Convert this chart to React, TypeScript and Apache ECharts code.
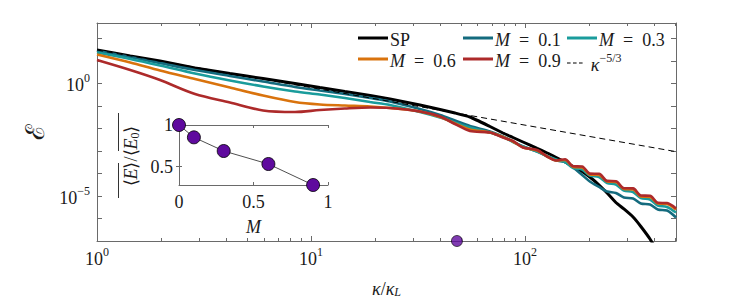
import React, { useEffect, useRef } from 'react';
import * as echarts from 'echarts';

// ---- data ----
const kappa = [1, 1.43, 1.97, 2.87, 4.18, 5.97, 8.42, 11.0, 14.4, 18.9, 23.4, 32.3, 40.1, 47.1, 55.3, 68.6, 78.9, 87.9, 97.9, 114, 127, 140, 154, 168, 185, 201, 222, 242, 266, 290, 320, 348, 384, 418, 461, 508];
const spE = [30.1, 16.3, 9.77, 4.78, 2.72, 1.63, 0.98, 0.651, 0.433, 0.287, 0.201, 0.109, 0.0687, 0.0481, 0.0319, 0.0121, 6.22e-3, 3.93e-3, 2.48e-3, 1.28e-3, 8.06e-4, 5.09e-4, 3.21e-4, 2.03e-4, 1.22e-4, 6.94e-5, 3.06e-5, 1.35e-5, 5.12e-6, 2.64e-6, 1.16e-6, 4.41e-7, 1.23e-7, 3.25e-8, 6.34e-9, 1.12e-9];
const m01E = [27.1, 14.7, 7.96, 3.89, 2.11, 1.2, 0.685, 0.479, 0.335, 0.223, 0.156, 0.0723, 0.0392, 0.0223, 0.0127, 7.26e-3, 4.35e-3, 2.61e-3, 1.57e-3, 9.39e-4, 5.64e-4, 3.75e-4, 3.21e-4, 1.83e-4, 8.51e-5, 4.38e-5, 2.5e-5, 1.58e-5, 1.35e-5, 8.54e-6, 7.7e-6, 4.62e-6, 4.17e-6, 2.5e-6, 2.26e-6, 1.11e-6];
const m03E = [23.3, 12.0, 6.17, 2.72, 1.33, 0.721, 0.433, 0.318, 0.223, 0.148, 0.109, 0.0532, 0.0303, 0.0182, 0.0109, 6.55e-3, 4.13e-3, 2.48e-3, 1.57e-3, 9.39e-4, 5.93e-4, 4.15e-4, 3.21e-4, 1.74e-4, 1.49e-4, 8.09e-5, 6.94e-5, 3.76e-5, 3.22e-5, 1.75e-5, 1.5e-5, 8.11e-6, 6.96e-6, 3.77e-6, 3.23e-6, 1.84e-6];
const m06E = [19.0, 8.38, 3.7, 1.55, 0.651, 0.287, 0.148, 0.115, 0.103, 0.0934, 0.0801, 0.056, 0.0319, 0.0164, 8.9e-3, 6.55e-3, 4.13e-3, 2.61e-3, 1.41e-3, 1.04e-3, 5.64e-4, 3.75e-4, 3.94e-4, 1.93e-4, 1.83e-4, 8.96e-5, 8.51e-5, 4.38e-5, 4.16e-5, 2.03e-5, 1.93e-5, 9.45e-6, 8.98e-6, 4.62e-6, 4.39e-6, 2.5e-6];
const m09E = [10.8, 3.89, 1.4, 0.335, 0.141, 0.062, 0.0532, 0.0653, 0.0761, 0.0843, 0.0801, 0.056, 0.0336, 0.0156, 7.63e-3, 6.55e-3, 3.93e-3, 2.75e-3, 1.41e-3, 1.1e-3, 5.64e-4, 3.75e-4, 4.28e-4, 2.09e-4, 2.03e-4, 9.82e-5, 9.62e-5, 4.66e-5, 4.52e-5, 2.21e-5, 2.16e-5, 1.05e-5, 1.02e-5, 4.97e-6, 4.82e-6, 2.77e-6];
const refK = [1, 508];
const refE = [30, 9.27e-4];
const strayK = [48.1];
const strayE = [1e-7];

const insetM = [0, 0.1, 0.3, 0.6, 0.9];
const insetRatio = [1.0, 0.852, 0.688, 0.532, 0.28];

const xLabelExps = [0, 1, 2];
const yLabelExps = [0, -5];
const minorKappa = [2, 3, 4, 5, 6, 7, 8, 9, 20, 30, 40, 50, 60, 70, 80, 90, 200, 300, 400, 500];
const insetTicksY = [0.5, 1];

const seriesNames = ['SP', 'M = 0.1', 'M = 0.3', 'M = 0.6', 'M = 0.9', 'ref'];
const seriesColors = ['#000000', '#146b7e', '#1a9c9c', '#d9730d', '#ad2a2a', '#000000'];

const FONT = "'Liberation Serif', serif";
const TXT = '#1a1a1a';
const AXIS = '#6a6a6a';

const rich: any = {
  b: { fontSize: 18, fontFamily: FONT, color: TXT, lineHeight: 22, verticalAlign: 'bottom' },
  i: { fontSize: 18, fontFamily: FONT, color: TXT, fontStyle: 'italic', lineHeight: 22, verticalAlign: 'bottom' },
  sup: { fontSize: 12, fontFamily: FONT, color: TXT, lineHeight: 22, verticalAlign: 'top' },
  sub: { fontSize: 12, fontFamily: FONT, color: TXT, fontStyle: 'italic', lineHeight: 27, verticalAlign: 'bottom' },
  s: { fontSize: 26, fontFamily: "'DejaVu Serif', serif", color: TXT },
};

const legendText: Record<string, string> = {
  'SP': '{b|SP}',
  'M = 0.1': '{i|M}{b|\u2002=\u20020.1}',
  'M = 0.3': '{i|M}{b|\u2002=\u20020.3}',
  'M = 0.6': '{i|M}{b|\u2002=\u20020.6}',
  'M = 0.9': '{i|M}{b|\u2002=\u20020.9}',
  'ref': '{i|κ}{sup|−5/3}',
};

function pow10Label(v: number, allowed: number[]) {
  const e = Math.log10(v);
  const r = Math.round(e);
  if (Math.abs(e - r) > 1e-6 || allowed.indexOf(r) < 0) return '';
  return `{b|10}{sup|${r < 0 ? '−' + -r : r}}`;
}

const zip = (a: number[], b: number[]) => a.map((v, i) => [v, b[i]]);

export default function App() {
  const ref = useRef<HTMLDivElement>(null);
  useEffect(() => {
    const chart = echarts.init(ref.current!, null, { renderer: 'svg' });
    const curves = [spE, m01E, m03E, m06E, m09E];
    const lineSeries: any[] = curves.map((c, i) => ({
      type: 'line',
      name: seriesNames[i],
      xAxisIndex: 0,
      yAxisIndex: 0,
      data: zip(kappa, c),
      showSymbol: false,
      symbol: 'none',
      smooth: i === 0 ? 0.15 : 0.3,
      lineStyle: { color: seriesColors[i], width: i === 0 ? 3 : 2.6 },
      itemStyle: { color: seriesColors[i] },
      z: 2 + i,
    }));
    lineSeries.push({
      type: 'line',
      name: 'ref',
      xAxisIndex: 0,
      yAxisIndex: 0,
      data: zip(refK, refE),
      symbol: 'none',
      lineStyle: { color: '#000', width: 1, type: [6, 4] },
      itemStyle: { color: '#000' },
      z: 8,
    });
    const legendPos = [
      [358, 31], [463, 31], [567, 31],
      [358, 52], [463, 52], [567, 52],
    ];
    const legendOrder = ['SP', 'M = 0.1', 'M = 0.3', 'M = 0.6', 'M = 0.9', 'ref'];
    const dashIcon = 'path://M0,0h6v2h-6zM10,0h6v2h-6zM20,0h6v2h-6z';
    const legends = legendOrder.map((n, i) => ({
      data: [n],
      left: legendPos[i][0],
      top: legendPos[i][1],
      padding: 0,
      itemGap: 0,
      itemWidth: n === 'ref' ? 28 : 30,
      itemHeight: n === 'ref' ? 1.2 : 3,
      icon: n === 'ref' ? dashIcon : 'rect',
      selectedMode: false,
      formatter: (name: string) => legendText[name],
      textStyle: { rich, fontFamily: FONT, fontSize: 18, color: TXT, padding: [0, 0, 0, -3] },
    }));

    const mainX = {
      type: 'log', logBase: 10, min: 1, max: 508, gridIndex: 0,
      axisLine: { show: true, lineStyle: { color: AXIS, width: 1 } },
      axisTick: { show: true, inside: true, length: 5, lineStyle: { color: AXIS } },
      splitLine: { show: false },
      minorTick: { show: false },
    };
    const mainY = {
      type: 'log', logBase: 10, min: 1e-7, max: 475, gridIndex: 0,
      axisLine: { show: true, lineStyle: { color: AXIS, width: 1 } },
      axisTick: { show: true, inside: true, length: 5, lineStyle: { color: AXIS } },
      splitLine: { show: false },
    };
    const insetAxisBase = {
      gridIndex: 1, type: 'value',
      axisLine: { show: true, lineStyle: { color: AXIS, width: 1 } },
      axisTick: { show: true, inside: true, length: 3, lineStyle: { color: AXIS } },
      splitLine: { show: false },
    };

    chart.setOption({
      animation: false,
      backgroundColor: '#ffffff',
      grid: [
        { left: 97, top: 23, width: 579, height: 218, containLabel: false, outerBoundsMode: 'none' },
        { left: 179, top: 125, width: 149, height: 60, containLabel: false, outerBoundsMode: 'none' },
      ],
      legend: legends,
      xAxis: [
        {
          ...mainX, position: 'bottom',
          axisLabel: { formatter: (v: number) => pow10Label(v, xLabelExps), rich, margin: 5, showMaxLabel: false },
          name: '{i|κ}{b|/}{i|κ}{sub|L}', nameLocation: 'middle', nameGap: 30,
          nameTextStyle: { rich },
        },
        { ...mainX, position: 'top', axisLabel: { show: false } },
        {
          ...insetAxisBase, min: 0, max: 1, interval: 0.5, position: 'bottom',
          axisLabel: { show: true, fontFamily: FONT, fontSize: 18, color: TXT, margin: 8, formatter: (v: number) => String(v) },
          name: '{i|M}', nameLocation: 'middle', nameGap: 29, nameTextStyle: { rich },
        },
        { ...insetAxisBase, min: 0, max: 1, interval: 0.5, position: 'top', axisLabel: { show: false } },
      ],
      yAxis: [
        {
          ...mainY, position: 'left',
          axisLabel: { formatter: (v: number) => pow10Label(v, yLabelExps), rich, margin: 7 },
          name: '{s|ℰ}', nameLocation: 'middle', nameRotate: 90, nameGap: 46,
          nameTextStyle: { rich },
        },
        { ...mainY, position: 'right', axisLabel: { show: false } },
        {
          ...insetAxisBase, min: 0.28, max: 1, position: 'left',
          axisTick: { ...insetAxisBase.axisTick, customValues: insetTicksY },
          axisLabel: { show: true, customValues: insetTicksY, fontFamily: FONT, fontSize: 18, color: TXT, margin: 6, formatter: (v: number) => String(v) },
        },
        {
          ...insetAxisBase, min: 0.28, max: 1, position: 'right',
          axisTick: { ...insetAxisBase.axisTick, customValues: insetTicksY },
          axisLabel: { show: false },
        },
      ],
      series: [
        ...lineSeries,
        {
          type: 'custom',
          xAxisIndex: 0,
          yAxisIndex: 0,
          silent: true,
          clip: false,
          data: minorKappa.map((k) => [k, 1]),
          renderItem: (params: any, api: any) => {
            const cs = params.coordSys;
            const x = Math.round(api.coord([api.value(0), 1])[0]) + 0.5;
            const b = cs.y + cs.height;
            const t = cs.y;
            return {
              type: 'group',
              children: [
                { type: 'line', shape: { x1: x, y1: b, x2: x, y2: b - 3 }, style: { stroke: AXIS, lineWidth: 1 } },
                { type: 'line', shape: { x1: x, y1: t, x2: x, y2: t + 3 }, style: { stroke: AXIS, lineWidth: 1 } },
              ],
            };
          },
          z: 1,
        },
        {
          type: 'scatter',
          xAxisIndex: 0,
          yAxisIndex: 0,
          data: zip(strayK, strayE),
          symbol: 'circle',
          symbolSize: 11,
          clip: false,
          itemStyle: { color: '#5f0a9e', borderColor: '#000', borderWidth: 0.8 },
          z: 10,
        },
        {
          type: 'line',
          xAxisIndex: 2,
          yAxisIndex: 2,
          data: zip(insetM, insetRatio),
          symbol: 'circle',
          symbolSize: 13,
          showSymbol: true,
          clip: false,
          lineStyle: { color: '#222', width: 0.8 },
          itemStyle: { color: '#5f0a9e', borderColor: '#000', borderWidth: 0.8 },
          z: 10,
        },
      ],
      graphic: [
        {
          type: 'text',
          x: 131,
          y: 156,
          rotation: Math.PI / 2,
          style: {
            text: '{a|⟨}{i|E}{a|⟩}{a|/}{a|⟨}{i|E}{sb|0}{a|⟩}',
            align: 'center',
            verticalAlign: 'middle',
            rich: {
              a: { fontSize: 18, fontFamily: FONT, fill: TXT },
              i: { fontSize: 18, fontFamily: FONT, fontStyle: 'italic', fill: TXT },
              sb: { fontSize: 12, fontFamily: FONT, fill: TXT, padding: [8, 0, 0, 0] },
            },
          },
        },
        { type: 'line', shape: { x1: 118.5, y1: 198, x2: 118.5, y2: 163 }, style: { stroke: '#333', lineWidth: 1 } },
        { type: 'line', shape: { x1: 118.5, y1: 151, x2: 118.5, y2: 113 }, style: { stroke: '#333', lineWidth: 1 } },
      ],
    });
    return () => chart.dispose();
  }, []);
  return <div ref={ref} style={{ position: 'absolute', left: 0, top: 0, width: 747, height: 299 }} />;
}
